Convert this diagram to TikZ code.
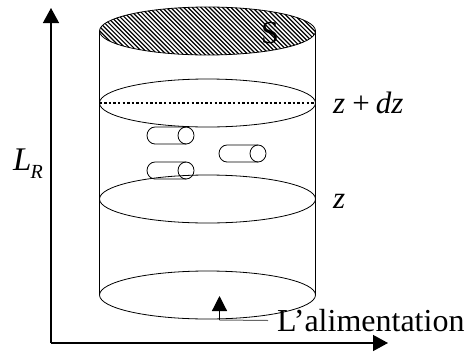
\documentclass[tikz,border=0pt]{standalone}
\usepackage{fontspec}
\setmainfont{Liberation Serif}
\usetikzlibrary{arrows.meta}
\tikzset{
  axisline/.style={line width=1.4pt,-{Triangle[length=15pt,width=16pt]}},
  partline/.style={line width=0.8pt},
  lbl/.style={inner sep=0pt,anchor=base west,font=\fontsize{32}{34}\selectfont},
  mathlbl/.style={lbl,font=\fontsize{31}{33}\selectfont\itshape},
}
\newcommand{\minicyl}[3]{%
  \draw[partline] ({#1+39},{#2}) -- ({#1+8},{#2}) arc[start angle=90,end angle=270,x radius=8pt,y radius=8.5pt] -- ({#1+39},{#2+17});
  \draw[partline] ({#1+39},{#2+8.5}) ellipse[x radius=8pt,y radius=8.5pt];
}
\begin{document}
\begin{tikzpicture}[x=1pt,y=-1pt]
\useasboundingbox (0,0) rectangle (468,351);
% hatched top
\begin{scope}
\clip (207.5,31) ellipse[x radius=108pt,y radius=24pt];
\foreach \k in {0,...,70}{
  \draw[line width=1.2pt] ({30+\k*4.3},0) -- ({30+\k*4.3+65},65);
}
\end{scope}
\draw[partline] (207.5,31) ellipse[x radius=108pt,y radius=24pt];
% walls
\draw[partline] (99.5,31) -- (99.5,295);
\draw[partline] (315.5,31) -- (315.5,295);
% ellipses
\draw[partline] (207.5,103) ellipse[x radius=108pt,y radius=24pt];
\draw[partline] (207.5,199) ellipse[x radius=108pt,y radius=24pt];
\draw[partline] (207.5,295) ellipse[x radius=108pt,y radius=24pt];
\draw[line width=2.4pt,dash pattern=on 2.4pt off 2.2pt] (99.5,103) -- (315.5,103);
% particles
\minicyl{147}{127}{}
\minicyl{147}{162}{}
\minicyl{219}{145}{}
% axes
\coordinate (axorigin) at (51,343);
\coordinate (ytip) at (51,8);
\coordinate (xtip) at (388,343);
\draw[axisline] (axorigin) -- (ytip);
\draw[axisline] (axorigin) -- (xtip);
% labels
\node[lbl] (s) at (261,43) {S};
\node[mathlbl] (zdz) at (333,113) {z\kern7pt\textup{+}\kern6pt dz};
\node[mathlbl] (z) at (333,208) {z};
\node[mathlbl,font=\fontsize{33}{35}\selectfont\itshape] (lr) at (13,170) {L\kern-1pt\raisebox{-8pt}{\fontsize{20}{22}\selectfont R}};
\node[lbl] (al) at (277,331) {L’alimentation};
% feed arrow
\coordinate (feedtip) at (219.5,296);
\coordinate (feedbase) at (219.5,320);
\coordinate (leader) at (268,320.5);
\draw[line width=1.2pt,-{Triangle[length=15pt,width=15pt]}] (feedbase) -- (feedtip);
\draw[line width=1pt,black!60] (feedbase) -- (leader);
\end{tikzpicture}
\end{document}
